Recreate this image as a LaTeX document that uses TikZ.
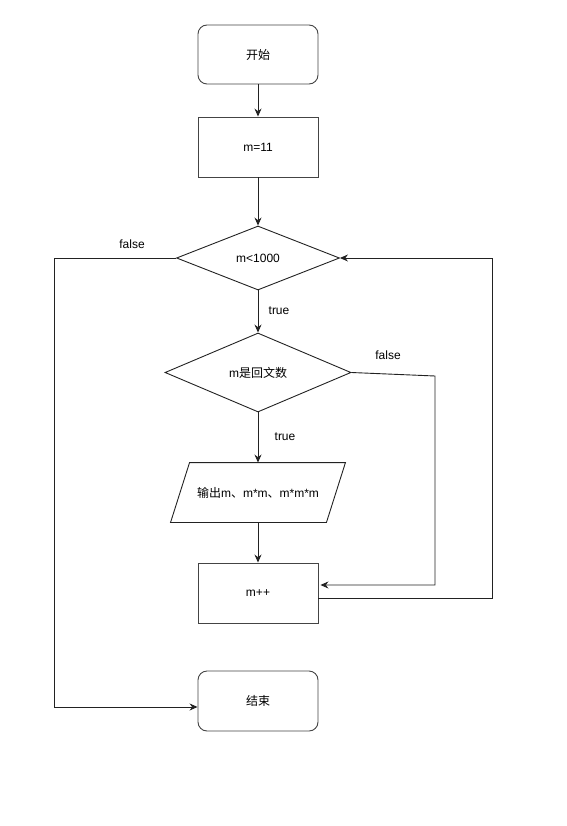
\documentclass[tikz,border=0pt]{standalone}
\usepackage{fontspec}
\setmainfont{Liberation Sans}
\newfontfamily\cjk{Noto Sans CJK SC}
\usetikzlibrary{arrows.meta,positioning,calc,shapes.geometric}
\definecolor{edge}{HTML}{222222}
\definecolor{frame}{HTML}{444444}

\begin{document}
\begin{tikzpicture}[
    x=1pt, y=-1pt,
    font=\fontsize{12}{14}\selectfont,
    >={Stealth[length=8pt,width=7pt]},
    line width=0.9pt,
    terminal/.style = {draw=frame, rounded corners=9pt, minimum width=120pt,
                       minimum height=59pt, inner sep=2pt, align=center},
    process/.style  = {draw=frame, minimum width=120pt, minimum height=60pt,
                       inner sep=2pt, align=center},
    decision/.style = {draw=edge, diamond, inner sep=0pt, align=center},
    iotext/.style   = {minimum width=155pt, minimum height=59pt, inner sep=0pt},
    sig/.style      = {draw=edge, line width=0.9pt, ->},
    wlbl/.style     = {inner sep=1pt},
  ]
  \useasboundingbox (0,0) rectangle (566,826);

  % ===================================================================
  % Main column (x = 258)
  % ===================================================================
  \node[terminal] (start) at (258,54.5) {\cjk 开始};
  \node[process] (init) at (258,147) {m=11};
  \node[decision, minimum width=163pt, minimum height=64pt] (loop)
    at (258,258) {m<1000};
  \node[decision, minimum width=186pt, minimum height=79pt] (pal)
    at (258,372.5) {m{\cjk 是回文数}};
  \node[iotext] (out) at (258,492.5)
    {{\cjk 输出}m{\cjk 、}m*m{\cjk 、}m*m*m};
  \draw[draw=edge] ($(out.south west)+(-9.5,0)$) -- ($(out.north west)+(9.5,0)$)
    -- ($(out.north east)+(9.5,0)$) -- ($(out.south east)+(-9.5,0)$) -- cycle;
  \node[process] (inc) at (258,593) {m++};
  \node[terminal, minimum height=60pt] (stop) at (258,701) {\cjk 结束};

  % Straight arrows down the column
  \draw[sig] (start.south) -- (init.north);
  \draw[sig] (init.south) -- (loop.north);
  \draw[sig] (loop.south) -- (pal.north);
  \draw[sig] (pal.south) -- (out.north);
  \draw[sig] (out.south) -- (inc.north);

  % ----- loop exit on the left -----
  \coordinate (exitL) at (54,258);
  \draw[sig] (loop.west) -- (exitL) -- ($(exitL |- stop.west)+(0,6)$)
    -- ($(stop.west)+(0,6)$);

  % ----- not a palindrome: skip output -----
  \coordinate (skipR) at (435,376);
  \draw[sig] (pal.east) -- (skipR) -- ($(skipR |- inc.east)+(0,-8)$)
    -- ($(inc.east)+(2,-8)$);

  % ----- back to the loop test -----
  \coordinate (backR) at (492,598);
  \draw[sig] ($(inc.east)+(0,5)$) -- (backR) -- (backR |- loop.east)
    -- (loop.east);

  % Branch labels
  \node[wlbl] (lfalse1) at (132,244) {false};
  \node[wlbl] (ltrue1)  at (279,311) {true};
  \node[wlbl] (lfalse2) at (388,355) {false};
  \node[wlbl] (ltrue2)  at (285,437) {true};

\end{tikzpicture}
\end{document}
